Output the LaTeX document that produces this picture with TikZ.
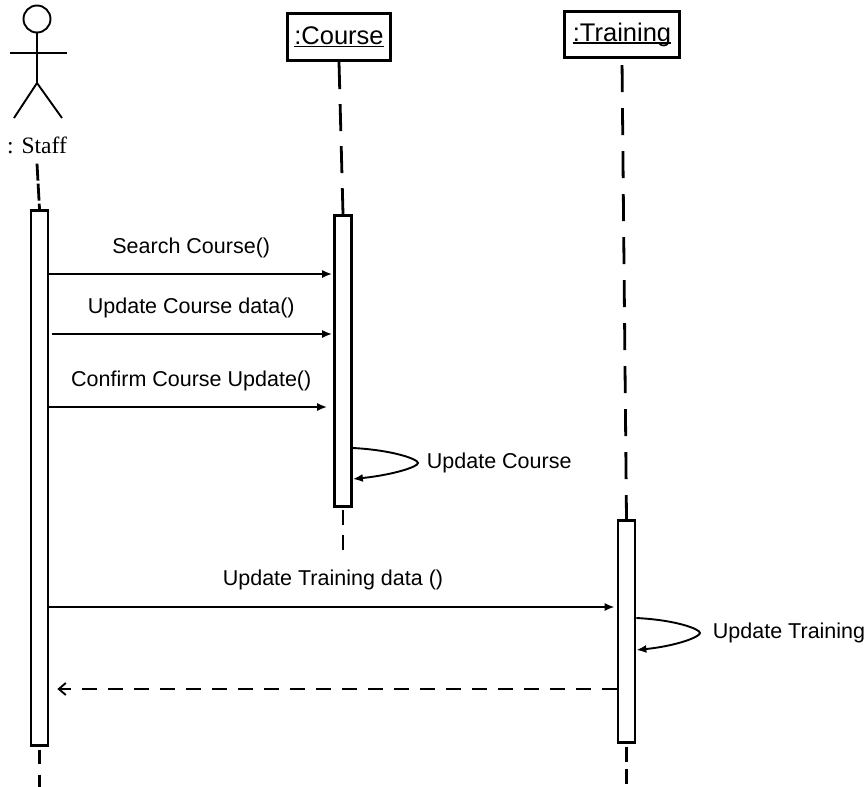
\documentclass[tikz,border=0pt]{standalone}
\usepackage{fontspec}
\setmainfont{Liberation Sans}
\newfontfamily\actorfont{Liberation Serif}
\usepackage{tikz}
\usetikzlibrary{arrows.meta}
\usetikzlibrary{positioning}

\newcommand{\objname}[1]{\setbox0\hbox{#1}\rlap{\rule[-2.6pt]{\wd0}{1.5pt}}\box0}

\tikzset{
	object/.style={draw, line width=3.2pt, inner sep=0pt, font=\fontsize{25.5}{30}\selectfont},
	activation/.style={draw, line width=2.7pt, fill=white, minimum width=17pt, inner sep=0pt, anchor=north},
	lifeline/.style={line width=2.8pt, dash pattern=on 27pt off 15pt},
	message/.style={line width=1.9pt, -{Latex[length=10pt,width=8pt]}},
	reply/.style={line width=1.9pt, dash pattern=on 15pt off 11pt, -{Straight Barb[length=7pt,width=12pt]}},
	msglabel/.style={font=\fontsize{21.5}{25}\selectfont, inner sep=0pt},
	actor/.style={line width=1.9pt}
}

\begin{document}
\begin{tikzpicture}[x=1pt, y=-1pt]
	\useasboundingbox (0,0) rectangle (868,787);
	
	% actor
	\node[circle, draw, actor, minimum size=27pt, inner sep=0pt] (head) at (37,19) {};
	\coordinate (hip) at (37,83);
	\draw[actor] (head.south) -- (hip);
	\draw[actor] (10,53) -- (67,53);
	\draw[actor] (14,118) -- (hip) -- (62,118);
	\node[inner sep=0pt, font=\actorfont\fontsize{23.5}{27}\selectfont] (staff) at (37,145) {: Staff};
	
	\node[object, minimum width=103pt, minimum height=47pt] (course) at (339,37) {\objname{:Course}};
	\node[object, minimum width=115pt, minimum height=46pt] (training) at (622,34.5) {\objname{:Training}};
	
	\node[activation, minimum height=535pt] (staffAct) at (39.5,209) {};
	\node[activation, minimum height=291pt] (courseAct) at (343,214) {};
	\node[activation, minimum height=222pt] (trainingAct) at (626.5,519) {};
	
	\coordinate (staffEnd) at (39.5,787);
	\coordinate (courseEnd) at (343,550);
	\coordinate (trainingEnd) at (626.5,787);
	
	\draw[lifeline, dash pattern=on 17pt off 3pt] ([yshift=-10pt]staff.south) -- (staffAct.north);
	\draw[lifeline] (course.south) -- (courseAct.north);
	\draw[lifeline, dash pattern=on 27pt off 16pt, dash phase=37pt] (training.south) -- (trainingAct.north);
	\draw[lifeline, dash pattern=on 14pt off 11pt, dash phase=22pt] (staffAct.south) -- (staffEnd);
	\draw[lifeline, dash pattern=on 15pt off 10pt, dash phase=23pt] (courseAct.south) -- (courseEnd);
	\draw[lifeline, dash pattern=on 15pt off 7pt, dash phase=19pt] (trainingAct.south) -- (trainingEnd);
	
	\draw[message, shorten >=1pt] (staffAct.east |- 0,274) -- node[msglabel, above=15pt] {Search Course()} (courseAct.west |- 0,274);
	\draw[message, shorten <=3pt, shorten >=1pt] (staffAct.east |- 0,334) -- node[msglabel, above=15pt] {Update Course data()} (courseAct.west |- 0,334);
	\draw[message, shorten >=6pt] (staffAct.east |- 0,407) -- node[msglabel, above=15pt] {Confirm Course Update()} (courseAct.west |- 0,407);
	\draw[message] (courseAct.east |- 0,448) .. controls (392,450) and (418,459) .. (418,463)
		node[msglabel, right=8pt] {Update Course}
		.. controls (418,467) and (392,475) .. (courseAct.east |- 0,479);
	
	\draw[message, shorten >=2pt] (staffAct.east |- 0,607) -- node[msglabel, above=16pt] {Update Training data ()} (trainingAct.west |- 0,607);
	\draw[message] (trainingAct.east |- 0,618) .. controls (676,620) and (700,629) .. (700,633)
		node[msglabel, right=12pt] {Update Training}
		.. controls (700,637) and (676,646) .. (trainingAct.east |- 0,650);
	\draw[reply, shorten >=8pt] (trainingAct.west |- 0,689) -- (staffAct.east |- 0,689);
\end{tikzpicture}
\end{document}
